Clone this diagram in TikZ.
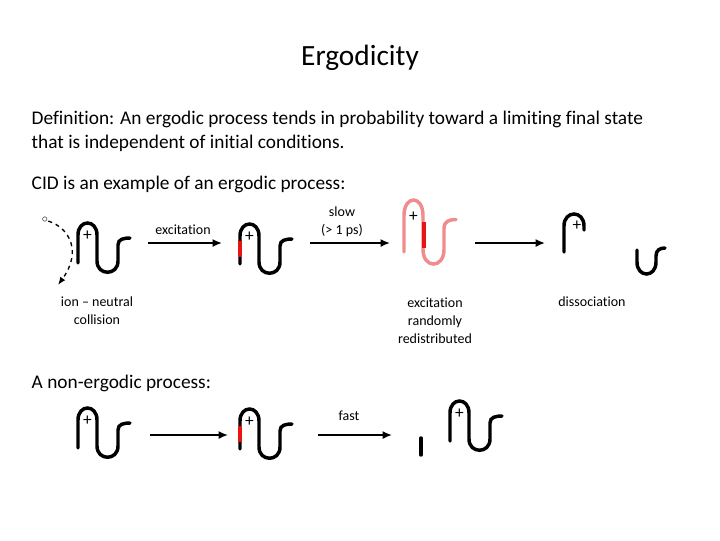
\documentclass[tikz,border=0pt]{standalone}
\usepackage{fontspec}
\setmainfont[Ligatures={NoCommon,NoContextual}]{Carlito}
\usetikzlibrary{arrows.meta}
\definecolor{pinkc}{RGB}{240,140,140}
\definecolor{redc}{RGB}{230,20,20}
\tikzset{
  mol/.style={line width=2.6pt,line cap=round},
  lbl/.style={font=\fontsize{10.5}{13.5}\selectfont,align=center},
  arr/.style={line width=1.3pt,-{Latex[length=7pt,width=6pt]}},
  pics/molecule/.style={code={
    \draw[mol,#1] (0,0) -- (0,-28) .. controls (0,-44) and (19,-44) .. (19,-28) -- (19,-2)
      .. controls (19,13) and (40,13) .. (40,-2) -- (40,-18) .. controls (40,-24) and (46,-25) .. (52,-25);
    \node[font=\fontsize{13}{13}\selectfont] at (9.5,-27) {+};
  }},
}
\begin{document}
\begin{tikzpicture}[x=0.75pt,y=-0.75pt]
\useasboundingbox (0,0) rectangle (720,540);
\node[font=\fontsize{22}{26}\selectfont] (title) at (360,58) {Ergodicity};
\node[anchor=north west,align=left,font=\fontsize{14.5}{18}\selectfont] (def) at (27,106)
 {Definition: An ergodic process tends in probability toward a limiting final state\\that is independent of initial conditions.};
\node[anchor=west,font=\fontsize{14.5}{16}\selectfont] (cid) at (27,184) {CID is an example of an ergodic process:};
\node[anchor=west,font=\fontsize{14.5}{16}\selectfont] (non) at (27,383) {A non-ergodic process:};
% row 1
\node[font=\fontsize{9}{9}\selectfont,inner sep=0] (ion) at (45,220) {$\circ$};
\pic at (78,263) {molecule};
\coordinate (dend) at (58,285);
\draw[line width=1pt,dashed,-{Latex[length=6pt]}] (ion) .. controls (70,228) and (82,252) .. (dend);
\node[lbl] (collab) at (97,311) {ion -- neutral\\collision};
\coordinate (a1s) at (148,243); \coordinate (a1e) at (222,243);
\draw[arr] (a1s) -- (a1e);
\node[lbl] (exlab) at (183,230) {excitation};
\pic at (240,264) {molecule};
\draw[line width=2.8pt,redc] (240,257) -- (240,241);
\coordinate (a2s) at (310,243); \coordinate (a2e) at (390,243);
\draw[arr] (a2s) -- (a2e);
\node[lbl] (slow) at (342,222) {slow\\(> 1 ps)};
\pic[yscale=1.3] at (404,252) {molecule=pinkc};
\draw[line width=2.8pt,redc] (424,222) -- (424,248);
\node[lbl] (redis) at (435,321) {excitation\\randomly\\redistributed};
\coordinate (a3s) at (475,243); \coordinate (a3e) at (545,243);
\draw[arr] (a3s) -- (a3e);
\draw[mol] (564,252) -- (564,226) .. controls (564,210) and (584,210) .. (584,226) -- (584,230);
\node[font=\fontsize{13}{13}\selectfont] (p4) at (577,226) {+};
\draw[mol] (637,250) -- (637,262) .. controls (637,278) and (656,278) .. (656,262) -- (656,256) .. controls (656,250) and (660,248) .. (665,248);
\node[lbl] (diss) at (592,302) {dissociation};
% row 2
\pic at (78,448) {molecule};
\coordinate (b1s) at (150,435); \coordinate (b1e) at (228,435);
\draw[arr] (b1s) -- (b1e);
\pic at (240,449) {molecule};
\draw[line width=2.8pt,redc] (240,442) -- (240,426);
\coordinate (b2s) at (318,435); \coordinate (b2e) at (392,435);
\draw[arr] (b2s) -- (b2e);
\node[lbl] (fast) at (349,416) {fast};
\draw[mol] (421,438) -- (421,455);
\pic at (450,441) {molecule};
\end{tikzpicture}
\end{document}
